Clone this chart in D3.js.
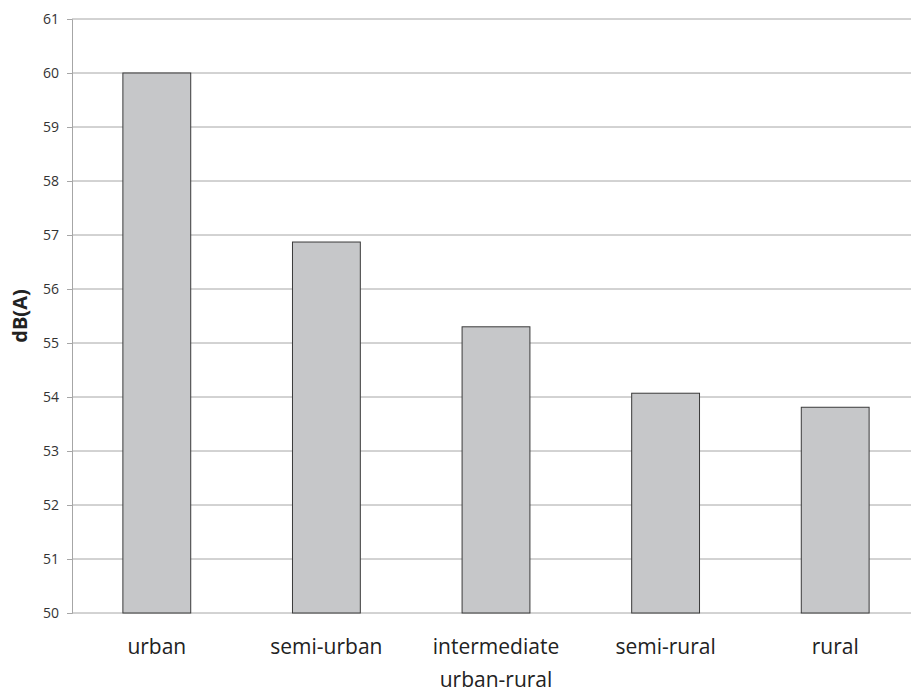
<!DOCTYPE html>
<html>
<head>
<meta charset="utf-8">
<script src="https://cdn.jsdelivr.net/npm/d3@7"></script>
<style>
  body { margin: 0; background: #fff; }
  text { font-family: "Open Sans", Lato, "Liberation Sans", sans-serif; }
</style>
</head>
<body>
<div id="chart"></div>
<script>
// chart data
const categories = ["urban", "semi-urban", "intermediate\nurban-rural", "semi-rural", "rural"];
const values = [60.0, 56.87, 55.3, 54.07, 53.81];
const yTicks = [50, 51, 52, 53, 54, 55, 56, 57, 58, 59, 60, 61];

const width = 911;
const height = 693;
const margins = { top: 19, right: -9, bottom: 80, left: 72 };

const svg = d3.select("#chart")
    .append("svg")
    .attr("width", width)
    .attr("height", height);

const plotW = width - margins.left - margins.right;
const plotH = height - margins.top - margins.bottom;

const chartGroup = svg.append("g")
    .attr("transform", `translate(${margins.left}, ${margins.top})`);

const xScale = d3.scaleBand()
    .domain(categories)
    .range([0, plotW])
    .paddingInner(0.6)
    .paddingOuter(0.3);

const yScale = d3.scaleLinear()
    .domain([50, 61])
    .range([plotH, 0]);

// gridlines
chartGroup.append("g")
    .selectAll("line")
    .data(yTicks)
    .enter()
    .append("line")
    .attr("x1", 0)
    .attr("x2", width)
    .attr("y1", d => yScale(d))
    .attr("y2", d => yScale(d))
    .attr("stroke", "#a6a6a6")
    .attr("stroke-width", 1);

// y axis
const leftAxis = d3.axisLeft(yScale)
    .tickValues(yTicks)
    .tickSize(5)
    .tickPadding(8);

const yAxis = chartGroup.append("g").call(leftAxis);
yAxis.select(".domain").attr("stroke", "#a6a6a6");
yAxis.selectAll(".tick line").attr("stroke", "#a6a6a6");
yAxis.selectAll(".tick text")
    .attr("fill", "#333")
    .style("font-size", "14px");

// bars
chartGroup.selectAll("rect.bar")
    .data(values)
    .enter()
    .append("rect")
    .attr("class", "bar")
    .attr("x", (d, i) => xScale(categories[i]))
    .attr("y", d => yScale(d))
    .attr("width", xScale.bandwidth())
    .attr("height", d => plotH - yScale(d))
    .attr("fill", "#c6c7c9")
    .attr("stroke", "#3a3a3a")
    .attr("stroke-width", 1);

// x labels (multi-line)
const xLabels = chartGroup.append("g")
    .selectAll("text")
    .data(categories)
    .enter()
    .append("text")
    .attr("text-anchor", "middle")
    .attr("fill", "#222")
    .style("font-size", "21px")
    .attr("transform", d => `translate(${xScale(d) + xScale.bandwidth() / 2}, ${plotH + 41})`);

xLabels.each(function (d) {
    const lines = d.split("\n");
    d3.select(this).selectAll("tspan")
        .data(lines)
        .enter()
        .append("tspan")
        .attr("x", 0)
        .attr("dy", (l, i) => i === 0 ? 0 : 33)
        .text(l => l);
});

// y axis title
svg.append("text")
    .attr("transform", `translate(27, ${margins.top + plotH / 2}) rotate(-90)`)
    .attr("text-anchor", "middle")
    .style("font-size", "20px")
    .style("font-weight", "bold")
    .attr("fill", "#222")
    .text("dB(A)");
</script>
</body>
</html>
